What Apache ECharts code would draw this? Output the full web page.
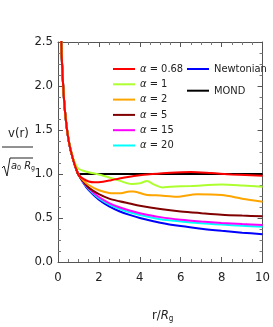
<!DOCTYPE html>
<html><head><meta charset="utf-8">
<script src="https://cdn.jsdelivr.net/npm/echarts@6/dist/echarts.min.js"></script>
<style>html,body{margin:0;padding:0;background:#fff}#c{width:273px;height:327px}</style>
</head><body><div id="c"></div>
<script>
// Data
const xTicks = [0, 2, 4, 6, 8, 10];
const yTicks = [0.0, 0.5, 1.0, 1.5, 2.0, 2.5];

const rNewton = [0.1, 0.15, 0.2, 0.3, 0.4, 0.5, 0.6, 0.7, 0.8, 0.9, 1, 1.25, 1.5, 2, 2.5, 3, 3.5, 4, 5, 6, 7, 8, 9, 10];
const vNewton = [3.16, 2.58, 2.24, 1.83, 1.58, 1.41, 1.29, 1.2, 1.12, 1.05, 1.0, 0.894, 0.816, 0.707, 0.632, 0.577, 0.535, 0.5, 0.447, 0.408, 0.378, 0.354, 0.333, 0.316];

const rMond = [0.1, 0.15, 0.2, 0.3, 0.4, 0.5, 0.6, 0.7, 0.8, 0.9, 1, 2, 4, 6, 8, 10];
const vMond = [3.16, 2.58, 2.24, 1.83, 1.58, 1.41, 1.29, 1.2, 1.12, 1.05, 1.0, 1.0, 1.0, 1.0, 1.0, 1.0];

const rA20 = [0.1, 0.15, 0.2, 0.3, 0.4, 0.5, 0.6, 0.7, 0.8, 0.9, 1, 1.25, 1.5, 2, 2.5, 3, 3.5, 4, 5, 6, 7, 8, 9, 10];
const vA20 = [3.16, 2.58, 2.24, 1.83, 1.58, 1.41, 1.29, 1.2, 1.12, 1.05, 1.0, 0.9, 0.83, 0.725, 0.655, 0.605, 0.565, 0.535, 0.485, 0.46, 0.44, 0.425, 0.412, 0.4];

const rA15 = [0.1, 0.15, 0.2, 0.3, 0.4, 0.5, 0.6, 0.7, 0.8, 0.9, 1, 1.25, 1.5, 2, 2.5, 3, 3.5, 4, 5, 6, 7, 8, 9, 10];
const vA15 = [3.16, 2.58, 2.24, 1.83, 1.58, 1.41, 1.29, 1.2, 1.12, 1.05, 1.0, 0.905, 0.838, 0.738, 0.67, 0.622, 0.585, 0.555, 0.51, 0.48, 0.46, 0.444, 0.431, 0.42];

const rA5 = [0.1, 0.15, 0.2, 0.3, 0.4, 0.5, 0.6, 0.7, 0.8, 0.9, 1, 1.25, 1.5, 2, 2.5, 3, 3.5, 4, 5, 6, 7, 8, 9, 10];
const vA5 = [3.16, 2.58, 2.24, 1.83, 1.58, 1.41, 1.29, 1.2, 1.12, 1.05, 0.99, 0.91, 0.845, 0.77, 0.72, 0.69, 0.665, 0.64, 0.603, 0.575, 0.555, 0.537, 0.527, 0.52];

const rA2 = [0.1, 0.15, 0.2, 0.3, 0.4, 0.5, 0.6, 0.7, 0.8, 0.9, 1, 1.25, 1.5, 2, 2.5, 3, 3.5, 3.7, 4.3, 5, 5.8, 6.8, 8, 9, 10];
const vA2 = [3.16, 2.58, 2.24, 1.83, 1.58, 1.41, 1.29, 1.2, 1.12, 1.05, 0.995, 0.925, 0.875, 0.815, 0.785, 0.78, 0.8, 0.8, 0.765, 0.755, 0.742, 0.77, 0.76, 0.72, 0.685];

const rA1 = [0.1, 0.15, 0.2, 0.3, 0.4, 0.5, 0.6, 0.7, 0.8, 0.9, 1, 1.2, 1.5, 2, 2.5, 3, 3.6, 4, 4.35, 4.7, 5.1, 5.5, 6.5, 8, 9, 10];
const vA1 = [3.16, 2.58, 2.24, 1.83, 1.58, 1.42, 1.3, 1.21, 1.14, 1.09, 1.06, 1.04, 1.02, 0.995, 0.96, 0.925, 0.886, 0.895, 0.92, 0.88, 0.848, 0.855, 0.864, 0.88, 0.87, 0.856];

const rA068 = [0.1, 0.15, 0.2, 0.3, 0.4, 0.5, 0.6, 0.7, 0.8, 0.9, 1, 1.2, 1.5, 1.8, 2.2, 2.6, 3, 3.5, 4, 4.6, 5.5, 6.5, 7.5, 8.5, 10];
const vA068 = [3.16, 2.58, 2.24, 1.83, 1.58, 1.41, 1.29, 1.2, 1.12, 1.05, 0.99, 0.95, 0.915, 0.905, 0.912, 0.93, 0.95, 0.97, 0.985, 1.0, 1.015, 1.022, 1.01, 0.995, 0.98];

const seriesNames = ['MOND', 'Newtonian', 'α = 20', 'α = 15', 'α = 5', 'α = 2', 'α = 1', 'α = 0.68'];
const seriesR = [rMond, rNewton, rA20, rA15, rA5, rA2, rA1, rA068];
const seriesV = [vMond, vNewton, vA20, vA15, vA5, vA2, vA1, vA068];
const seriesColors = ['#000000', '#0000ff', '#00ffff', '#ff00ff', '#800000', '#ffa500', '#adff2f', '#ff0000'];

const FONT = '"Liberation Sans Narrow", "DejaVu Sans Condensed", "Liberation Sans", sans-serif';
const chart = echarts.init(document.getElementById('c'), null, {renderer: 'canvas'});

const series = seriesNames.map((n, i) => ({
  name: n, type: 'line', xAxisIndex: 0, yAxisIndex: 0,
  data: seriesR[i].map((r, k) => [r, seriesV[i][k]]),
  showSymbol: false, symbol: 'none', smooth: 0.3,
  lineStyle: {color: seriesColors[i], width: 2}, itemStyle: {color: seriesColors[i]},
  clip: true, animation: false, z: 2 + i
}));

const fmt = n => n.startsWith('α') ? '{a|α}' + n.slice(1) : n;
const legendText = {color: '#222', fontFamily: FONT, fontSize: 11, lineHeight: 14,
  rich: {a: {fontStyle: 'italic', fontFamily: FONT, fontSize: 11, color: '#222'}}};

const axisCommon = {
  min: 0, axisLine: {show: true, onZero: false, lineStyle: {color: '#555', width: 1}},
  axisTick: {show: true, inside: true, length: 5, lineStyle: {color: '#555'}},
  minorTick: {show: true, splitNumber: 4, length: 3, lineStyle: {color: '#777'}},
  splitLine: {show: false}
};

chart.setOption({
  animation: false,
  backgroundColor: '#fff',
  grid: {left: 58, right: 7, top: 42, bottom: 65, containLabel: false},
  xAxis: [
    Object.assign({}, axisCommon, {type: 'value', max: 10, interval: 2, position: 'bottom',
      axisLabel: {color: '#222', fontFamily: FONT, fontSize: 13, margin: 9,
        formatter: v => xTicks.includes(v) ? String(v) : ''}}),
    Object.assign({}, axisCommon, {type: 'value', max: 10, interval: 2, position: 'top',
      axisLabel: {show: false}})
  ],
  yAxis: [
    Object.assign({}, axisCommon, {type: 'value', max: 2.5, interval: 0.5, position: 'left',
      axisLabel: {color: '#222', fontFamily: FONT, fontSize: 13, margin: 5,
        formatter: v => yTicks.find(t => Math.abs(t - v) < 1e-9) !== undefined ? v.toFixed(1) : ''}}),
    Object.assign({}, axisCommon, {type: 'value', max: 2.5, interval: 0.5, position: 'right',
      axisLabel: {show: false}})
  ],
  legend: [
    {data: ['α = 0.68', 'α = 1', 'α = 2', 'α = 5', 'α = 15', 'α = 20'], orient: 'vertical',
      left: 108, top: 57, icon: 'rect', itemWidth: 22, itemHeight: 2, itemGap: 1.3, formatter: fmt,
      textStyle: legendText, selectedMode: false},
    {data: ['Newtonian', 'MOND'], orient: 'vertical', left: 182, top: 57, icon: 'rect',
      itemWidth: 22, itemHeight: 2, itemGap: 7.7, textStyle: legendText, selectedMode: false}
  ],
  graphic: [
    {type: 'text', left: 8, top: 127, style: {text: 'v(r)', font: '13px ' + FONT, fill: '#222'}},
    {type: 'line', shape: {x1: 2, y1: 147, x2: 33, y2: 147}, style: {stroke: '#222', lineWidth: 1}},
    {type: 'polyline', shape: {points: [[2, 168], [4, 166], [7, 176], [10, 158], [33, 158]]}, style: {stroke: '#222', lineWidth: 1, fill: null}},
    {type: 'text', left: 11, top: 161, style: {text: '{s|a}{t|0} {s|R}{t|g}', font: '11px ' + FONT, fill: '#222',
      rich: {s: {fontStyle: 'italic', fontFamily: FONT, fontSize: 11, fill: '#222'}, t: {fontFamily: FONT, fontSize: 7, verticalAlign: 'bottom', padding: [4, 0, 0, 0], fill: '#222'}}}},
    {type: 'text', left: 152, top: 309, style: {text: 'r/{i|R}{t|g}', font: '13px ' + FONT, fill: '#222',
      rich: {i: {fontStyle: 'italic', fontFamily: FONT, fontSize: 13, fill: '#222'}, t: {fontFamily: FONT, fontSize: 8, padding: [6, 0, 0, 0], fill: '#222'}}}}
  ],
  series: series
});
</script></body></html>
